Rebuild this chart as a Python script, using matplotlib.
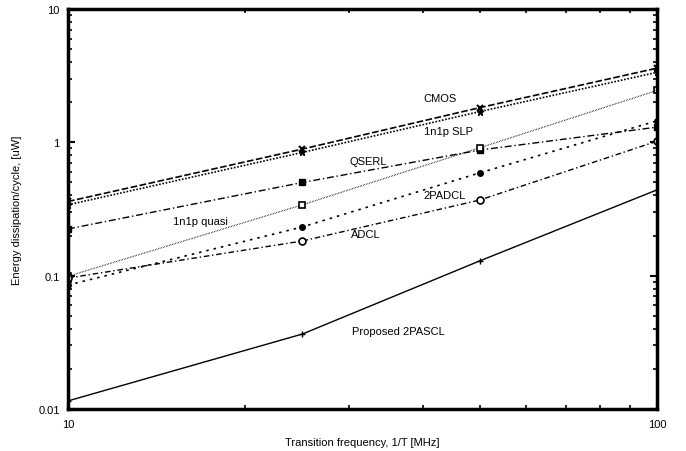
import matplotlib
matplotlib.use("Agg")
import matplotlib.pyplot as plt
from matplotlib.ticker import LogLocator, NullFormatter, FixedLocator, FixedFormatter

plt.rcParams['font.family'] = ['Liberation Sans', 'DejaVu Sans']

freq = [10, 25, 50, 100]
cmos = [0.36, 0.89, 1.82, 3.6]
slp = [0.34, 0.84, 1.70, 3.35]
qserl = [0.224, 0.50, 0.875, 1.30]
quasi = [0.099, 0.34, 0.91, 2.45]
padcl2 = [0.085, 0.232, 0.59, 1.45]
adcl = [0.096, 0.182, 0.369, 1.02]
pascl = [0.0115, 0.0365, 0.129, 0.44]

x_ticks = [10, 100]
x_tick_labels = ["10", "100"]
y_ticks = [0.01, 0.1, 1, 10]
y_tick_labels = ["0.01", "0.1", "1", "10"]

fig = plt.figure(figsize=(6.86, 4.52), dpi=100)
ax = fig.add_axes([68/686, 1-410/452, 589/686, 400/452])
ax.set_xscale('log')
ax.set_yscale('log')

k = 'black'
ax.plot(freq, cmos, color=k, lw=1.2, ls=(0, (4, 1.5)), marker='x', ms=5, mew=1.5)
ax.plot(freq, slp, color=k, lw=1.2, ls=(0, (1, 1)), marker='*', ms=5)
ax.plot(freq, qserl, color=k, lw=1.0, ls=(0, (5, 2, 1, 2)), marker='s', ms=4)
ax.plot(freq, quasi, color=k, lw=0.9, ls=(0, (0.5, 0.8)), marker='s', ms=5, mfc='white', mew=1.2)
ax.plot(freq, padcl2, color=k, lw=1.2, ls=(0, (1.5, 3)), marker='o', ms=4)
ax.plot(freq, adcl, color=k, lw=1.0, ls=(0, (4, 2, 1, 2)), marker='o', ms=5, mfc='white', mew=1.2)
ax.plot(freq, pascl, color=k, lw=1.0, ls='-', marker='+', ms=5, mew=1.0)

ax.set_xlim(10, 100)
ax.set_ylim(0.01, 10)

ax.xaxis.set_major_locator(FixedLocator(x_ticks))
ax.xaxis.set_major_formatter(FixedFormatter(x_tick_labels))
ax.yaxis.set_major_locator(FixedLocator(y_ticks))
ax.yaxis.set_major_formatter(FixedFormatter(y_tick_labels))
ax.xaxis.set_minor_locator(LogLocator(base=10, subs=range(2, 10)))
ax.yaxis.set_minor_locator(LogLocator(base=10, subs=range(2, 10)))
ax.xaxis.set_minor_formatter(NullFormatter())
ax.yaxis.set_minor_formatter(NullFormatter())
ax.tick_params(which='both', direction='in', top=True, right=True, labelsize=8)
ax.tick_params(axis='x', pad=7)
ax.tick_params(axis='y', pad=6)
ax.tick_params(which='major', length=5, width=1.5)
ax.tick_params(which='minor', length=3, width=1.2)
for s in ax.spines.values():
    s.set_linewidth(2.5)

def lab(px, py, txt):
    ax.text((px-68)/589, 1-(py-10)/400, txt, transform=ax.transAxes,
            fontsize=8, ha='left', va='center')

lab(423, 99, "CMOS")
lab(424, 132, "1n1p SLP")
lab(349, 162, "QSERL")
lab(173, 222, "1n1p quasi")
lab(423, 196, "2PADCL")
lab(351, 235, "ADCL")
lab(352, 332, "Proposed 2PASCL")

ax.set_xlabel("Transition frequency, 1/T [MHz]", fontsize=8, labelpad=6)
ax.set_ylabel("Energy dissipation/cycle, [uW]", fontsize=8, labelpad=12)

fig.savefig("out.png", dpi=100)
